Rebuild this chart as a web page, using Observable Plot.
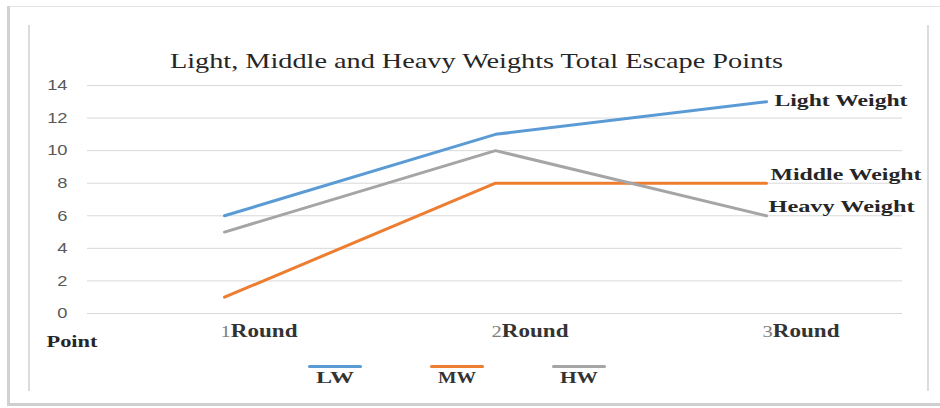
<!DOCTYPE html>
<html>
<head>
<meta charset="utf-8">
<script src="https://cdn.jsdelivr.net/npm/d3@7"></script>
<script src="https://cdn.jsdelivr.net/npm/@observablehq/plot@0.6"></script>
<style>
  html, body { margin: 0; padding: 0; background: #fff; }
  #wrap { position: relative; width: 940px; height: 408px; overflow: hidden; background: #fff; }
  .deco { position: absolute; }
  #title { position: absolute; top: 0; left: 0; width: 940px; height: 75px; }
  #title span { position: absolute; left: 476px; top: 49px; white-space: nowrap;
    font-family: "Liberation Serif", "DejaVu Serif", serif; font-size: 22px; line-height: 24px; color: #262626;
    transform-origin: 0 50%; }
  #chart { position: absolute; top: 75px; left: 0; }
  #legend { position: absolute; top: 352px; left: 0; width: 940px; height: 56px; }
  .lg-line { position: absolute; height: 3px; width: 54px; border-radius: 1.5px; top: 13px; }
  .lg-text { position: absolute; top: 17px; white-space: nowrap; font-family: "Liberation Serif", serif;
    font-weight: bold; font-size: 16px; line-height: 18px; color: #333; transform-origin: 0 50%; }
</style>
</head>
<body>
<div id="wrap">
  <div class="deco" style="left:7px;top:6px;width:933px;height:1px;background:#e4e4e4"></div>
  <div class="deco" style="left:7px;top:6px;width:3px;height:400px;background:#d2d2d2"></div>
  <div class="deco" style="left:7px;top:403px;width:933px;height:3px;background:#cfcfcf"></div>
  <div class="deco" style="left:28px;top:25px;width:2px;height:366px;background:#dcdcdc"></div>
  <div class="deco" style="left:927px;top:25px;width:2px;height:366px;background:#dcdcdc"></div>
  <div id="title"><span id="titleText"></span></div>
  <div id="chart"></div>
  <div id="legend"></div>
</div>
<script>
// ---- data ----
const titleText = "Light, Middle and Heavy Weights Total Escape Points";
const rounds = ["1Round", "2Round", "3Round"];
const seriesKeys = ["LW", "MW", "HW"];
const seriesNames = ["Light Weight", "Middle Weight", "Heavy Weight"];
const lightWeight = [6, 11, 13];
const middleWeight = [1, 8, 8];
const heavyWeight = [5, 10, 6];
const yTicks = [0, 2, 4, 6, 8, 10, 12, 14];
const yAxisLabel = "Point";
const colors = ["#5B9BD5", "#ED7D31", "#A5A5A5"];

const seriesValues = [lightWeight, middleWeight, heavyWeight];
const data = seriesKeys.flatMap((k, i) =>
  rounds.map((r, j) => ({ series: k, name: seriesNames[i], round: r, value: seriesValues[i][j] })));
const lastOf = (k) => data.filter(d => d.series === k && d.round === rounds[rounds.length - 1]);

const serif = "Liberation Serif, DejaVu Serif, serif";

const plot = Plot.plot({
  width: 940,
  height: 284,
  marginLeft: 87,
  marginRight: 38,
  marginTop: 10,
  marginBottom: 46,
  x: { type: "point", domain: rounds, padding: 0.5, axis: null },
  y: { domain: [0, 14], axis: null },
  color: { domain: seriesKeys, range: colors },
  marks: [
    Plot.gridY(yTicks, { stroke: "#d9d9d9", strokeOpacity: 1, strokeWidth: 1 }),
    Plot.axisY(yTicks, { tickSize: 0, tickPadding: 20, fontSize: 15, fill: "#595959",
      fontFamily: "Liberation Sans, Arial, sans-serif", label: null }),
    Plot.axisX(rounds, { tickSize: 0, tickPadding: 11, textAnchor: "start", dx: -4, fontSize: 18,
      fontFamily: serif, fontWeight: "bold", fill: "#333", label: null }),
    Plot.lineY(data, { x: "round", y: "value", stroke: "series", z: "series", strokeWidth: 3 }),
    Plot.text(lastOf("LW"), { x: "round", y: "value", text: "name", textAnchor: "start", dx: 8, dy: -1,
      fontFamily: serif, fontWeight: "bold", fontSize: 16, fill: "#262626" }),
    Plot.text(lastOf("MW"), { x: "round", y: "value", text: "name", textAnchor: "start", dx: 4, dy: -8,
      fontFamily: serif, fontWeight: "bold", fontSize: 16, fill: "#262626" }),
    Plot.text(lastOf("HW"), { x: "round", y: "value", text: "name", textAnchor: "start", dx: 2, dy: -9,
      fontFamily: serif, fontWeight: "bold", fontSize: 16, fill: "#262626" }),
    Plot.text([yAxisLabel], { frameAnchor: "bottom-left", text: d => d, textAnchor: "start", dx: -41, dy: 33,
      fontFamily: serif, fontWeight: "bold", fontSize: 17, fill: "#262626" })
  ]
});
document.getElementById("chart").appendChild(plot);

// stretch helper for SVG text (reference is horizontally stretched)
function stretchTo(el, w) {
  el.setAttribute("textLength", w);
  el.setAttribute("lengthAdjust", "spacingAndGlyphs");
}
const svg = d3.select(plot);
svg.selectAll('g[aria-label="y-axis tick label"] text').each(function () {
  stretchTo(this, this.getComputedTextLength() * 1.22);
});
svg.selectAll('g[aria-label="x-axis tick label"] text').each(function () {
  const t = d3.select(this);
  const txt = this.textContent;
  t.text(null);
  t.append("tspan").attr("font-weight", "normal").attr("fill", "#7f7f7f").attr("font-size", 16).text(txt.slice(0, 1));
  t.append("tspan").text(txt.slice(1));
  stretchTo(this, 77);
});
const labelWidths = { "Light Weight": 133, "Middle Weight": 151, "Heavy Weight": 146, "Point": 51 };
svg.selectAll('g[aria-label="text"] text').each(function () {
  const w = labelWidths[this.textContent];
  if (w) stretchTo(this, w);
});

// title
const tEl = document.getElementById("titleText");
tEl.textContent = titleText;
const tw = tEl.getBoundingClientRect().width;
tEl.style.left = (476.5 - 613 / 2) + "px";
tEl.style.transform = `scaleX(${613 / tw})`;

// legend
const legend = document.getElementById("legend");
const legendCenters = [335, 457, 579];
seriesKeys.forEach((k, i) => {
  const line = document.createElement("div");
  line.className = "lg-line";
  line.style.background = colors[i];
  line.style.left = (legendCenters[i] - 27) + "px";
  legend.appendChild(line);
  const lab = document.createElement("div");
  lab.className = "lg-text";
  lab.textContent = k;
  legend.appendChild(lab);
  const w = lab.getBoundingClientRect().width;
  const target = 38;
  lab.style.left = (legendCenters[i] - target / 2) + "px";
  lab.style.transform = `scaleX(${target / w})`;
});
</script>
</body>
</html>
